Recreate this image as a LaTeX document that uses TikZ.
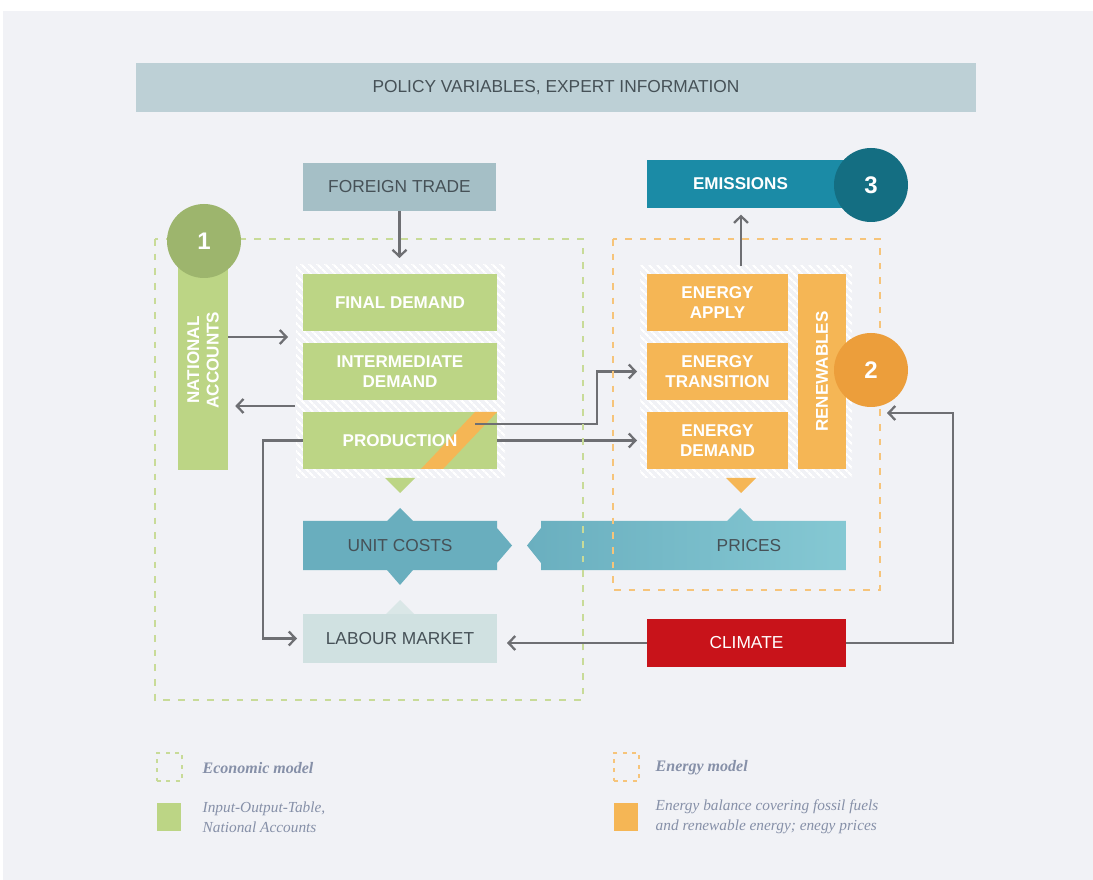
\documentclass[tikz,border=0pt]{standalone}
\usepackage{fontspec}
\setmainfont{Liberation Sans}
\newfontfamily\legendfont{Liberation Serif}
\usetikzlibrary{arrows.meta,patterns.meta,calc}

\definecolor{panel}{HTML}{F1F2F6}
\definecolor{policy}{HTML}{BDD0D6}
\definecolor{trade}{HTML}{A5BFC6}
\definecolor{txtdark}{HTML}{465157}
\definecolor{gfill}{HTML}{BCD585}
\definecolor{gdash}{HTML}{C8DB98}
\definecolor{gcirc}{HTML}{9DB56D}
\definecolor{ofill}{HTML}{F5B655}
\definecolor{odash}{HTML}{F6C47A}
\definecolor{ocirc}{HTML}{EC9E3B}
\definecolor{emis}{HTML}{1B8BA6}
\definecolor{tcirc}{HTML}{146E82}
\definecolor{ucost}{HTML}{69AEBE}
\definecolor{priceL}{HTML}{6AAFBF}
\definecolor{priceR}{HTML}{85C8D3}
\definecolor{labour}{HTML}{D0E1E1}
\definecolor{labnotch}{HTML}{DAE7E7}
\definecolor{climate}{HTML}{C8131A}
\definecolor{arrgray}{HTML}{6E6F73}
\definecolor{legtxt}{HTML}{8690A8}

\begin{document}
\begin{tikzpicture}[x=0.75pt,y=-0.75pt,
  sz/.style 2 args={minimum width=#1*0.75pt,minimum height=#2*0.75pt,inner sep=0pt,outer sep=0pt},
  dbox/.style={align=center,text=txtdark,font=\fontsize{13}{15}\selectfont},
  wbox/.style={align=center,text=white,font=\fontsize{12.8}{14.5}\selectfont\bfseries},
  gbox/.style={wbox,fill=gfill},
  obox/.style={wbox,fill=ofill},
  arr/.style={draw=arrgray,line width=1.7pt,-{Straight Barb[length=5pt,width=10.5pt]}},
  num/.style={circle,minimum size=74*0.75pt,inner sep=0pt,text=white,font=\fontsize{18}{20}\selectfont\bfseries},
  hatch/.style={pattern={Lines[angle=-45,distance=4pt,line width=1.5pt]},pattern color=white},
  gframe/.style={draw=gdash,line width=1.2pt,dash pattern=on 5pt off 6pt},
  oframe/.style={draw=odash,line width=1.2pt,dash pattern=on 5pt off 6pt},
  legsq/.style={line width=1.3pt,dash pattern=on 3pt off 4pt},
  legbold/.style={anchor=west,text=legtxt,font=\legendfont\fontsize{12}{14}\selectfont\bfseries\itshape},
  legtext/.style={anchor=west,align=left,text=legtxt,font=\legendfont\fontsize{11.5}{15}\selectfont\itshape}
]
\useasboundingbox (0,0) rectangle (1093,880);
\fill[white] (0,0) rectangle (1093,880);
\fill[panel] (3,11) rectangle (1093,880);

% top bar and foreign trade
\node[dbox,fill=policy,sz={840}{49}] (policy) at (556,87.5) {POLICY VARIABLES, EXPERT INFORMATION};
\node[dbox,fill=trade,sz={193}{48}] (trade) at (399.5,187) {FOREIGN TRADE};

% hatched backgrounds of the two model blocks
\fill[hatch] (296,265) rectangle (505,478);
\fill[hatch] (640,266) rectangle (852,478);

% economic model blocks
\node[gbox,rotate=90,minimum width=220*0.75pt,minimum height=50*0.75pt,inner sep=0pt] (nacc) at (203,360) {NATIONAL\\ACCOUNTS};
\node[gbox,sz={194}{57}] (fd) at (400,302.5) {FINAL DEMAND};
\node[gbox,sz={194}{57}] (id) at (400,371.5) {INTERMEDIATE\\DEMAND};
\node[gbox,sz={194}{57},
  path picture={\fill[ofill] ([xshift=88.5pt]path picture bounding box.south west)
     -- ([xshift=105pt]path picture bounding box.south west)
     -- (path picture bounding box.north east)
     -- ([xshift=129pt]path picture bounding box.north west) -- cycle;}] (prod) at (400,440.5) {PRODUCTION};
\fill[gfill] (385,478) -- (415,478) -- (400,493) -- cycle;

% energy model blocks
\node[obox,sz={141}{57}] (ea) at (717.5,302.5) {ENERGY\\APPLY};
\node[obox,sz={141}{57}] (et) at (717.5,371.5) {ENERGY\\TRANSITION};
\node[obox,sz={141}{57}] (ed) at (717.5,440.5) {ENERGY\\DEMAND};
\node[obox,rotate=90,minimum width=195*0.75pt,minimum height=48*0.75pt,inner sep=0pt] (ren) at (822,371.5) {RENEWABLES};
\fill[ofill] (726,478) -- (756,478) -- (741,493) -- cycle;

% emissions
\node[wbox,fill=emis,sz={187}{48}] (emisbox) at (740.5,184) {EMISSIONS};
\fill[emis] (emisbox.north east) rectangle ($(emisbox.south east)+(14,0)$);

% unit costs and prices
\fill[ucost] (303,521) -- (387,521) -- (400,508) -- (413,521) -- (497,521) -- (497,528)
  -- (512,545.5) -- (497,563) -- (497,570) -- (413,570) -- (400,585) -- (387,570)
  -- (303,570) -- cycle;
\node[dbox,sz={194}{49}] (ucosts) at (400,545.5) {UNIT COSTS};
\shade[left color=priceL,right color=priceR] (541,521) -- (727,521) -- (740,508) -- (753,521)
  -- (846,521) -- (846,570) -- (541,570) -- (541,563) -- (527,545.5) -- (541,528) -- cycle;
\node[dbox,sz={194}{49}] (prices) at (749,545.5) {PRICES};

% labour market and climate
\fill[labnotch] (386,614) -- (400,600) -- (414,614) -- cycle;
\node[dbox,fill=labour,sz={194}{49}] (labour) at (400,638.5) {LABOUR MARKET};
\node[dbox,text=white,fill=climate,sz={199}{48}] (climate) at (746.5,643) {CLIMATE};

% connectors
\coordinate (g1) at ($(fd.south)!0.5!(id.north)$);
\coordinate (g2) at ($(id.south)!0.5!(prod.north)$);
\coordinate (etop) at (741,266);
\coordinate (eIn) at (887,413);
\coordinate (pout) at ($(prod.east)+(-22,-16.5)$);

\draw[arr,shorten >=12pt] (trade.south) -- (trade.south |- fd.north);
\draw[arr] (nacc.south |- g1) -- ($(fd.west |- g1)+(-15,0)$);
\draw[arr] ($(prod.west |- g2)+(-8,0)$) -- ($(nacc.south |- g2)+(7,0)$);
\draw[arr,shorten >=4.5pt] (prod.west) -- ++(-40,0) |- (labour.west);
\draw[arr,shorten >=7.5pt] (prod.east) -- (ed.west);
\draw[arr,shorten >=7.5pt] (pout) -- ++(122,0) |- (et.west);
\draw[arr,shorten >=5pt] (etop) -- (etop |- emisbox.south);
\draw[arr,shorten >=7.5pt] (climate.west) -- (labour.east |- climate.west);
\draw[arr] (climate.east) -- ++(107,0) |- (eIn);

% model frames
\draw[gframe] (155,239) rectangle (583,700);
\draw[oframe] (613,239) rectangle (880,590);

% numbered markers
\node[num,fill=gcirc] (c1) at (204,241) {1};
\node[num,fill=ocirc] (c2) at (871,370) {2};
\node[num,fill=tcirc] (c3) at (871,185) {3};

% legend
\node[draw=gdash,legsq,sz={25}{28}] (lg1) at (169.5,767) {};
\node[legbold] (lt1) at (198,768) {Economic model};
\node[fill=gfill,sz={24}{28}] (lg2) at (169,817) {};
\node[legtext] (lt2) at (198,817) {Input-Output-Table,\\National Accounts};
\node[draw=odash,legsq,sz={25}{28}] (lg3) at (626.5,767) {};
\node[legbold] (lt3) at (651,768) {Energy model};
\node[fill=ofill,sz={24}{28}] (lg4) at (626,817) {};
\node[legtext] (lt4) at (651,817) {Energy balance covering fossil fuels\\and renewable energy; enegy prices};
\end{tikzpicture}
\end{document}
